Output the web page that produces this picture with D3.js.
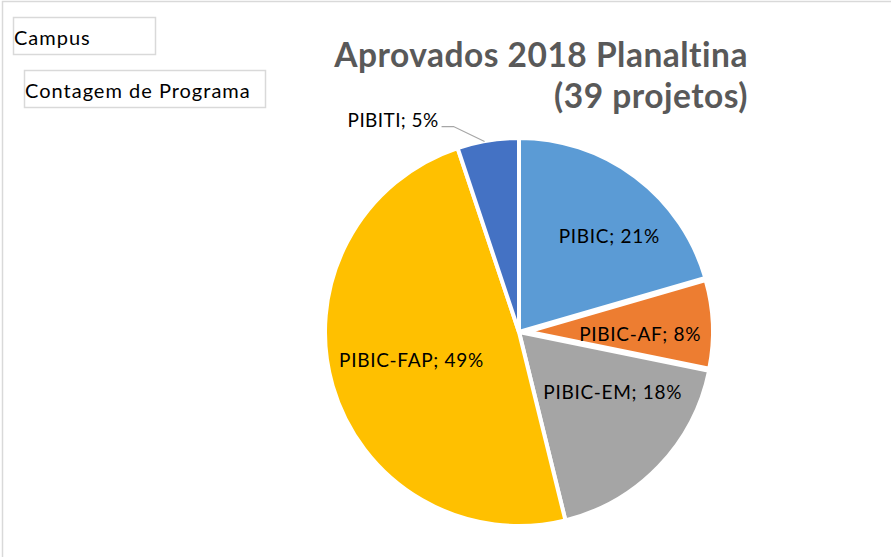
<!DOCTYPE html>
<html>
<head>
<meta charset="utf-8">
<script src="https://cdn.jsdelivr.net/npm/d3@7"></script>
<style>
  body { margin: 0; background: #fff; }
  text { font-family: Lato, "Open Sans", sans-serif; }
</style>
</head>
<body>
<div id="chart"></div>
<script>
// data
const programs = ["PIBIC", "PIBIC-AF", "PIBIC-EM", "PIBIC-FAP", "PIBITI"];
const counts = [8, 3, 7, 19, 2];
const percents = [21, 8, 18, 49, 5];
const colors = ["#5B9BD5", "#ED7D31", "#A5A5A5", "#FFC000", "#4472C4"];

const width = 891, height = 557;
const cx = 519, cy = 332, radius = 194;
const explode = [0, 9, 0, 0, 0];
// small nudges so labels sit where Excel's "best fit" put them
const labelNudge = [[18, 1], [-8, 8], [7, -23], [8, -5], [0, 0]];

const svg = d3.select("#chart").append("svg")
    .attr("width", width)
    .attr("height", height);

// chart area border (only top/left visible in the crop)
svg.append("rect")
    .attr("x", 2.5).attr("y", 1.5)
    .attr("width", width + 10).attr("height", height + 10)
    .attr("fill", "none")
    .attr("stroke", "#d9d9d9")
    .attr("stroke-width", 1.5);

// pivot field buttons
const buttons = [
    {label: "Campus", x: 13, y: 17, w: 142, h: 37},
    {label: "Contagem de Programa", x: 24, y: 70, w: 241, h: 37}
];
buttons.forEach(b => {
    svg.append("rect")
        .attr("x", b.x + 0.5).attr("y", b.y + 0.5)
        .attr("width", b.w).attr("height", b.h)
        .attr("fill", "#fff")
        .attr("stroke", "#d9d9d9")
        .attr("stroke-width", 1.5);
    svg.append("text")
        .attr("x", b.x + 1)
        .attr("y", b.y + 28)
        .style("font-size", "20px")
        .style("letter-spacing", "1px")
        .attr("fill", "#000")
        .text(b.label);
});

// title
const title = svg.append("text")
    .attr("text-anchor", "end")
    .attr("fill", "#595959")
    .style("font-size", "33.5px")
    .style("letter-spacing", "0.5px")
    .style("font-weight", "bold");
title.append("tspan").attr("x", 748).attr("y", 67).text("Aprovados 2018 Planaltina");
title.append("tspan").attr("x", 748).attr("y", 108).text("(39 projetos)");

const rows = programs.map((p, i) => ({program: p, count: counts[i], pct: percents[i], color: colors[i], i: i}));

const pie = d3.pie().sort(null).value(d => d.count);
// exploded slice keeps its rim on the pie circle
const arc = d3.arc().innerRadius(0).outerRadius(d => radius - explode[d.data.i]);
const labelArc = d3.arc().innerRadius(radius * 0.62).outerRadius(radius * 0.62);

const arcs = pie(rows);

const g = svg.append("g").attr("transform", `translate(${cx},${cy})`);

function shift(d) {
    const a = (d.startAngle + d.endAngle) / 2;
    const e = explode[d.data.i];
    return [Math.sin(a) * e, -Math.cos(a) * e];
}

g.selectAll("path.slice")
    .data(arcs)
    .enter().append("path")
    .attr("class", "slice")
    .attr("d", arc)
    .attr("transform", d => `translate(${shift(d)})`)
    .attr("fill", d => d.data.color)
    .attr("stroke", "#fff")
    .attr("stroke-width", 4)
    .attr("stroke-linejoin", "round");

// inside labels
g.selectAll("text.inlabel")
    .data(arcs.filter(d => d.data.program !== "PIBITI"))
    .enter().append("text")
    .attr("class", "inlabel")
    .attr("transform", d => {
        const c = labelArc.centroid(d), s = shift(d), n = labelNudge[d.data.i];
        return `translate(${c[0] + s[0] + n[0]},${c[1] + s[1] + n[1]})`;
    })
    .attr("text-anchor", "middle")
    .attr("dy", "0.35em")
    .style("font-size", "19px")
    .style("letter-spacing", "0.7px")
    .attr("fill", "#000")
    .text(d => `${d.data.program}; ${d.data.pct}%`);

// outside label with leader line for the small slice
arcs.filter(d => d.data.program === "PIBITI").forEach(d => {
    const a = (d.startAngle + d.endAngle) / 2;
    const p0 = [Math.sin(a) * (radius + 2) - 3, -Math.cos(a) * (radius + 2) + 3];
    const p1 = [p0[0] - 31, p0[1] - 15];
    const p2 = [p1[0] - 12, p1[1]];
    g.append("polyline")
        .attr("points", [p0, p1, p2].map(p => p.join(",")).join(" "))
        .attr("fill", "none")
        .attr("stroke", "#a6a6a6")
        .attr("stroke-width", 1.2);
    g.append("text")
        .attr("x", p2[0] - 3)
        .attr("y", p2[1])
        .attr("text-anchor", "end")
        .style("font-size", "19px")
        .style("letter-spacing", "0.4px")
        .attr("fill", "#000")
        .text(`${d.data.program}; ${d.data.pct}%`);
});
</script>
</body>
</html>
